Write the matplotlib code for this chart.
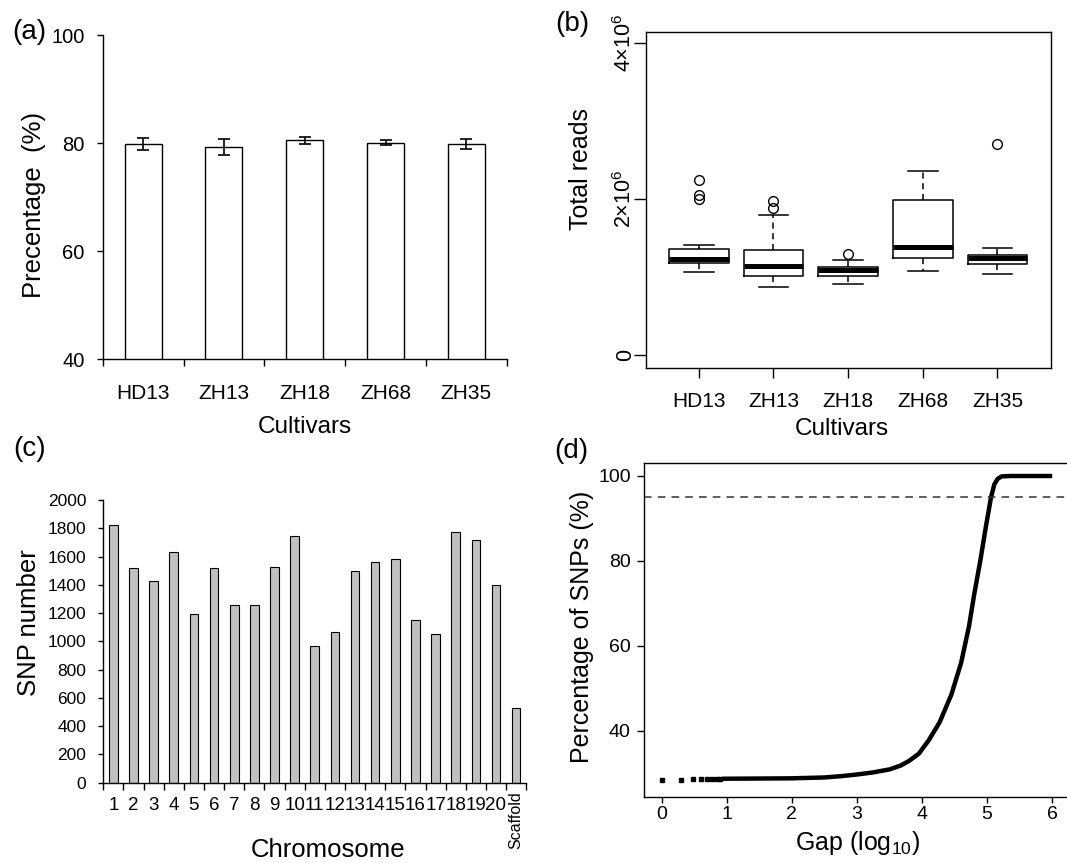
import numpy as np
import matplotlib
matplotlib.use("Agg")
import matplotlib.pyplot as plt
import matplotlib.transforms as mtransforms

plt.rcParams['font.family'] = ['Liberation Sans', 'DejaVu Sans']
plt.rcParams['mathtext.fontset'] = 'custom'
plt.rcParams['mathtext.rm'] = 'Liberation Sans'
plt.rcParams['mathtext.it'] = 'Liberation Sans:italic'
plt.rcParams['mathtext.bf'] = 'Liberation Sans:bold'
plt.rcParams['axes.linewidth'] = 1.0

# ---------------- data ----------------
cultivars = ['HD13', 'ZH13', 'ZH18', 'ZH68', 'ZH35']
mapping_pct = [79.8, 79.3, 80.5, 80.1, 79.8]
mapping_err = [1.1, 1.5, 0.6, 0.45, 0.9]

reads_low = [1.057e6, 0.873e6, 0.908e6, 1.070e6, 1.036e6]
reads_q1 = [1.178e6, 1.015e6, 1.015e6, 1.242e6, 1.169e6]
reads_med = [1.233e6, 1.143e6, 1.083e6, 1.378e6, 1.242e6]
reads_q3 = [1.362e6, 1.340e6, 1.122e6, 1.991e6, 1.285e6]
reads_high = [1.404e6, 1.798e6, 1.220e6, 2.355e6, 1.374e6]
reads_outliers = [[2.239e6, 2.055e6, 2.004e6], [1.969e6, 1.884e6], [1.297e6], [], [2.706e6]]
reads_ticks = [0, 2e6, 4e6]
reads_ticklabels = ['0', '2×10$^{6}$', '4×10$^{6}$']

chromosomes = [str(i) for i in range(1, 21)] + ['Scaffold']
snp_counts = [1823, 1521, 1429, 1634, 1196, 1516, 1257, 1260, 1528, 1747,
              969, 1064, 1500, 1563, 1585, 1151, 1052, 1774, 1719, 1401, 526]

gap_dots_x = [0.0, 0.30, 0.48, 0.60, 0.70, 0.78, 0.85, 0.90]
gap_dots_y = [28.5, 28.5, 28.6, 28.6, 28.6, 28.6, 28.7, 28.7]
gap_x = [0.93, 1.5, 2.0, 2.5, 2.75, 3.0, 3.25, 3.5, 3.67, 3.8, 3.95, 4.1, 4.27,
         4.45, 4.6, 4.72, 4.80, 4.90, 4.98, 5.06, 5.11, 5.16, 5.22, 5.36, 6.0]
gap_pct = [28.7, 28.75, 28.8, 29.0, 29.3, 29.7, 30.2, 30.9, 31.8, 32.9, 34.6, 37.7, 42.0,
           48.5, 56.0, 64.5, 72.0, 80.5, 88.0, 95.0, 98.0, 99.3, 99.9, 100.0, 100.0]
threshold = 95

# ---------------- figure ----------------
W, H = 1067, 863
fig = plt.figure(figsize=(W / 100, H / 100), dpi=100)


def px_axes(l, t, r, b):
    return fig.add_axes([l / W, 1 - b / H, (r - l) / W, (b - t) / H])


def ftext(x, y, s, **kw):
    kw.setdefault('ha', 'center')
    kw.setdefault('va', 'center')
    fig.text(x / W, 1 - y / H, s, **kw)


# ---------- (a) ----------
ax = px_axes(102.7, 35, 506.7, 359.3)
xa = np.arange(len(cultivars))
ax.bar(xa, mapping_pct, width=0.46, color='white', edgecolor='black', linewidth=1.0)
ax.errorbar(xa, mapping_pct, yerr=mapping_err, fmt='none', ecolor='black',
            elinewidth=1.2, capsize=4, capthick=1.2)
ax.set_xlim(-0.5, len(cultivars) - 0.5)
ax.set_ylim(40, 100)
ax.set_yticks([40, 60, 80, 100])
ax.set_xticks(np.arange(-0.5, len(cultivars), 1))
ax.set_xticklabels([])
ax.set_xticks(xa, minor=True)
ax.set_xticklabels(cultivars, minor=True)
ax.tick_params(axis='x', which='major', length=5, width=1.0, direction='out')
ax.tick_params(axis='x', which='minor', length=0, pad=17.5, labelsize=15)
ax.tick_params(axis='y', length=4, width=1.0, pad=9, labelsize=14.5)
for s in ['top', 'right']:
    ax.spines[s].set_visible(False)
ftext(33.8, 205, 'Precentage  (%)', rotation=90, fontsize=18.5)
ftext(304.7, 426.7, 'Cultivars', fontsize=17.5)
ftext(29.6, 32, '(a)', fontsize=20)

# ---------- (b) ----------
ax = px_axes(646.4, 31.7, 1050.5, 367.7)
stats = []
for i in range(len(cultivars)):
    stats.append(dict(med=reads_med[i], q1=reads_q1[i], q3=reads_q3[i],
                      whislo=reads_low[i], whishi=reads_high[i],
                      fliers=reads_outliers[i], label=cultivars[i]))
xb = np.arange(1, len(cultivars) + 1)
ax.bxp(stats, positions=xb, widths=0.8, capwidths=0.4,
       boxprops=dict(linewidth=1.1, color='black'),
       medianprops=dict(linewidth=3.6, color='black', solid_capstyle='butt'),
       whiskerprops=dict(linewidth=1.1, color='black', linestyle=(0, (4, 3))),
       capprops=dict(linewidth=1.1, color='black'),
       flierprops=dict(marker='o', markerfacecolor='none', markeredgecolor='black',
                       markersize=7, markeredgewidth=1.0))
ax.set_xlim(0.2985, 5.71)
ax.set_ylim(-0.167e6, 4.145e6)
ax.set_xticks(xb)
ax.set_xticklabels(cultivars)
ax.set_yticks(reads_ticks)
ax.set_yticklabels(reads_ticklabels, rotation=90, va='center')
ax.tick_params(axis='x', length=7, width=1.0, pad=10.5, labelsize=15)
ax.tick_params(axis='y', length=8.6, width=1.0, pad=-1.0, labelsize=15.5)
ftext(581.5, 169, 'Total reads', rotation=90, fontsize=18)
ftext(841.7, 429, 'Cultivars', fontsize=17.5)
ftext(572.5, 24, '(b)', fontsize=20)

# ---------- (c) ----------
ax = px_axes(103.3, 500, 526.2, 782.7)
xc = np.arange(len(chromosomes))
ax.bar(xc, snp_counts, width=0.43, color='#c0c0c0', edgecolor='black', linewidth=0.8)
ax.set_xlim(-0.5, len(chromosomes) - 0.5)
ax.set_ylim(0, 2000)
ax.set_yticks(np.arange(0, 2001, 200))
ax.set_xticks(np.arange(-0.5, len(chromosomes), 1))
ax.set_xticklabels([])
ax.set_xticks(xc[:-1], minor=True)
ax.set_xticklabels(chromosomes[:-1], minor=True)
ax.tick_params(axis='x', which='major', length=4.8, width=1.0)
ax.tick_params(axis='x', which='minor', length=0, pad=10, labelsize=13.5)
ax.tick_params(axis='y', length=3.6, width=1.0, pad=8.5, labelsize=12.5)
trans = mtransforms.blended_transform_factory(ax.transData, ax.transAxes)
ax.text(xc[-1], -0.032, chromosomes[-1], rotation=90, ha='center', va='top',
        fontsize=11.5, transform=trans, clip_on=False)
for s in ['top', 'right']:
    ax.spines[s].set_visible(False)
ftext(29.3, 623, 'SNP number', rotation=90, fontsize=18.5)
ftext(328, 850, 'Chromosome', fontsize=18.5)
ftext(29.3, 449, '(c)', fontsize=20)

# ---------- (d) ----------
ax = px_axes(644.2, 462.7, 1068.5, 797)
ax.plot(gap_x, gap_pct, color='black', linewidth=3.2, solid_capstyle='butt')
ax.plot(gap_dots_x, gap_dots_y, linestyle='none', marker='s', markersize=2.4,
        color='black')
ax.axhline(threshold, color='#333333', linewidth=1.1, linestyle=(0, (5, 4)))
ax.set_xlim(-0.269, 6.25)
ax.set_ylim(24.4, 103.13)
ax.set_xticks(range(0, 7))
ax.set_yticks([40, 60, 80, 100])
ax.tick_params(axis='x', length=4.3, width=1.0, pad=2.5, labelsize=14)
ax.tick_params(axis='y', length=5, width=1.0, pad=4.6, labelsize=14)
ftext(582, 626.7, 'Percentage of SNPs (%)', rotation=90, fontsize=18)
ftext(857.6, 850, 'Gap (log$_{10}$)', fontsize=18, va='baseline')
ftext(571.5, 451, '(d)', fontsize=20)

fig.savefig('out.png', dpi=100)
